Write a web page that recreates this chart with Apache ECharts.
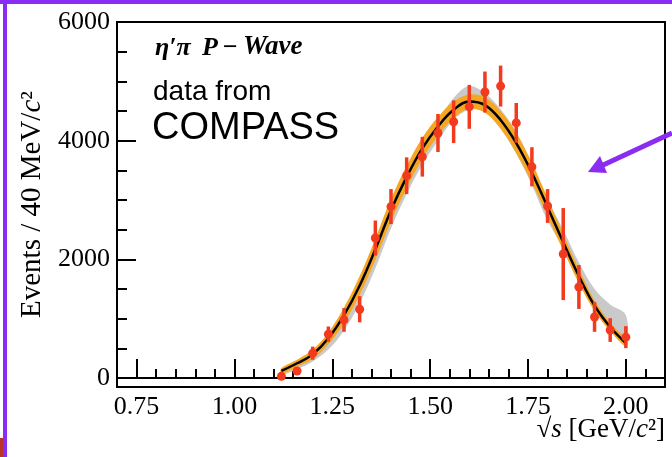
<!DOCTYPE html>
<html><head><meta charset="utf-8">
<script src="https://cdn.jsdelivr.net/npm/echarts@6/dist/echarts.min.js"></script>
<style>html,body{margin:0;padding:0;background:#fff}#c{width:672px;height:457px}</style>
</head><body><div id="c"></div>
<script>
// ---- data ----
const energies = [1.12,1.16,1.20,1.24,1.28,1.32,1.36,1.40,1.44,1.48,1.52,1.56,1.60,1.64,1.68,1.72,1.76,1.80,1.84,1.88,1.92,1.96,2.00];
const events   = [30,120,420,740,980,1160,2360,2890,3410,3730,4130,4320,4570,4820,4920,4300,3560,2900,2090,1535,1030,810,690];
const errors   = [60,60,110,130,200,220,295,295,310,335,320,360,370,345,345,335,330,285,775,370,250,200,185];

const fitX     = [1.12,1.16,1.20,1.24,1.28,1.32,1.36,1.40,1.44,1.48,1.52,1.56,1.60,1.64,1.68,1.72,1.76,1.80,1.84,1.88,1.92,1.96,2.00];
const fitY     = [120,250,400,670,1060,1560,2170,2830,3390,3870,4240,4520,4660,4600,4350,3960,3460,2880,2290,1720,1220,860,590];
const orangeLo = [70,190,320,570,930,1400,1990,2640,3200,3690,4080,4380,4540,4470,4200,3790,3290,2720,2150,1600,1130,790,530];
const orangeHi = [170,310,480,770,1190,1720,2350,3020,3580,4050,4400,4660,4780,4730,4500,4130,3630,3040,2430,1840,1310,930,650];
const grayLo   = [60,150,280,480,800,1260,1850,2520,3100,3600,4000,4350,4520,4480,4200,3780,3250,2650,2200,1680,1200,850,580];
const grayHi   = [150,270,430,700,1080,1580,2180,2840,3400,3880,4330,4720,4920,4800,4530,4150,3600,3000,2500,1950,1500,1240,1060];

const xMajorTicks = [0.75,1.00,1.25,1.50,1.75,2.00];
const xMinorTicks = [0.80,0.85,0.90,0.95,1.05,1.10,1.15,1.20,1.30,1.35,1.40,1.45,1.55,1.60,1.65,1.70,1.80,1.85,1.90,1.95,2.05];
const yMajorTicks = [0,2000,4000,6000];
const yMinorTicks = [500,1000,1500,2500,3000,3500,4500,5000,5500];

const SERIF = 'Liberation Serif';
const SANS = 'Liberation Sans';
const PURPLE = '#8a2cf2';
const RED = '#f23a1f';

function bandItem(lo, hi, color) {
  return function (params, api) {
    const pts = [];
    for (let i = 0; i < fitX.length; i++) pts.push(api.coord([fitX[i], hi[i]]));
    for (let i = fitX.length - 1; i >= 0; i--) pts.push(api.coord([fitX[i], lo[i]]));
    return { type: 'polygon', shape: { points: pts, smooth: 0.35 }, style: { fill: color } };
  };
}

const titleFont = { fontFamily: SERIF, fontSize: 26, fontWeight: 'bold', fontStyle: 'italic', fill: '#000' };

const chart = echarts.init(document.getElementById('c'));
chart.setOption({
  animation: false,
  backgroundColor: '#fff',
  grid: { left: 117, right: 7, top: 22, bottom: 70, containLabel: false, outerBoundsMode: 'none', show: true, borderColor: '#000', borderWidth: 2, backgroundColor: 'transparent' },
  xAxis: [{
    type: 'value', min: 0.7, max: 2.1, position: 'bottom',
    axisLine: { show: true, lineStyle: { color: '#000', width: 2 } },
    axisTick: { show: true, inside: true, length: 19, customValues: xMajorTicks, lineStyle: { color: '#000', width: 2 } },
    axisLabel: { customValues: xMajorTicks, formatter: v => v.toFixed(2), fontFamily: SERIF, fontSize: 26, color: '#000', margin: 7 },
    splitLine: { show: false }
  }, {
    type: 'value', min: 0.7, max: 2.1, position: 'bottom',
    axisLine: { show: false },
    axisTick: { show: true, inside: true, length: 9, customValues: xMinorTicks, lineStyle: { color: '#000', width: 2 } },
    axisLabel: { show: false },
    splitLine: { show: false }
  }],
  yAxis: [{
    type: 'value', min: -150, max: 6000, position: 'left',
    axisLine: { show: true, lineStyle: { color: '#000', width: 2 } },
    axisTick: { show: true, inside: true, length: 19, customValues: yMajorTicks, lineStyle: { color: '#000', width: 2 } },
    axisLabel: { customValues: yMajorTicks, formatter: v => String(v), fontFamily: SERIF, fontSize: 26, color: '#000', margin: 7 },
    splitLine: { show: false },
    name: '{n|Events / 40 MeV/}{i|c}{n|²}',
    nameLocation: 'middle', nameGap: 70, nameRotate: 90,
    nameTextStyle: {
      rich: {
        i: { fontFamily: SERIF, fontSize: 29, fontStyle: 'italic', color: '#000' },
        n: { fontFamily: SERIF, fontSize: 29, color: '#000' }
      }
    }
  }, {
    type: 'value', min: -150, max: 6000, position: 'left',
    axisLine: { show: false },
    axisTick: { show: true, inside: true, length: 10, customValues: yMinorTicks, lineStyle: { color: '#000', width: 2 } },
    axisLabel: { show: false },
    splitLine: { show: false }
  }],
  series: [
    { type: 'custom', name: 'gray band', xAxisIndex: 0, yAxisIndex: 0, data: [0], renderItem: bandItem(grayLo, grayHi, '#c9c9c9'), clip: true, z: 1, silent: true },
    { type: 'custom', name: 'fit band', xAxisIndex: 0, yAxisIndex: 0, data: [0], renderItem: bandItem(orangeLo, orangeHi, '#f5a623'), clip: true, z: 2, silent: true },
    { type: 'line', name: 'fit', data: fitX.map((x, i) => [x, fitY[i]]), smooth: 0.4, showSymbol: false, lineStyle: { color: '#000', width: 2.5 }, z: 3 },
    { type: 'custom', name: 'errors', data: energies.map((x, i) => [x, events[i], errors[i]]),
      renderItem: function (params, api) {
        const x = api.value(0), y = api.value(1), e = api.value(2);
        const p1 = api.coord([x, y - e]), p2 = api.coord([x, y + e]);
        return { type: 'line', shape: { x1: p1[0], y1: p1[1], x2: p2[0], y2: p2[1] }, style: { stroke: RED, lineWidth: 3.5 } };
      }, z: 4 },
    { type: 'scatter', name: 'data', data: energies.map((x, i) => [x, events[i]]), symbol: 'circle', symbolSize: 9, itemStyle: { color: RED, opacity: 1 }, z: 5 }
  ],
  graphic: [
    { type: 'text', left: 155, top: 35, style: Object.assign({ text: 'η′π' }, titleFont) },
    { type: 'text', left: 202, top: 35, style: Object.assign({ text: 'P' }, titleFont) },
    { type: 'text', left: 222, top: 35, style: Object.assign({ text: '−' }, titleFont) },
    { type: 'text', left: 243, top: 34, style: Object.assign({}, titleFont, { text: 'Wave', fontSize: 27 }) },
    { type: 'text', left: 153, top: 78, style: { text: 'data from', fontFamily: SANS, fontSize: 28, fill: '#000' } },
    { type: 'text', left: 152, top: 110, style: { text: 'COMPASS', fontFamily: SANS, fontSize: 38, fill: '#000' } },
    { type: 'text', right: 7, top: 416, style: {
        text: '{r|√}{i|s}{n| [GeV/}{i|c}{n|²]}',
        rich: {
          r: { fontFamily: SERIF, fontSize: 27, fill: '#000' },
          i: { fontFamily: SERIF, fontSize: 27, fontStyle: 'italic', fill: '#000' },
          n: { fontFamily: SERIF, fontSize: 27, fill: '#000' }
        } } },
    { type: 'rect', shape: { x: 0, y: 0, width: 672, height: 4 }, style: { fill: PURPLE }, z: 100 },
    { type: 'rect', shape: { x: 3, y: 0, width: 4, height: 457 }, style: { fill: PURPLE }, z: 100 },
    { type: 'rect', shape: { x: 0, y: 438, width: 3, height: 19 }, style: { fill: '#b8352b' }, z: 100 },
    { type: 'line', shape: { x1: 672, y1: 133, x2: 601, y2: 166 }, style: { stroke: PURPLE, lineWidth: 5 }, z: 100 },
    { type: 'polygon', shape: { points: [[588, 172], [600, 156], [607, 173]] }, style: { fill: PURPLE }, z: 100 }
  ]
});
</script>
</body></html>
